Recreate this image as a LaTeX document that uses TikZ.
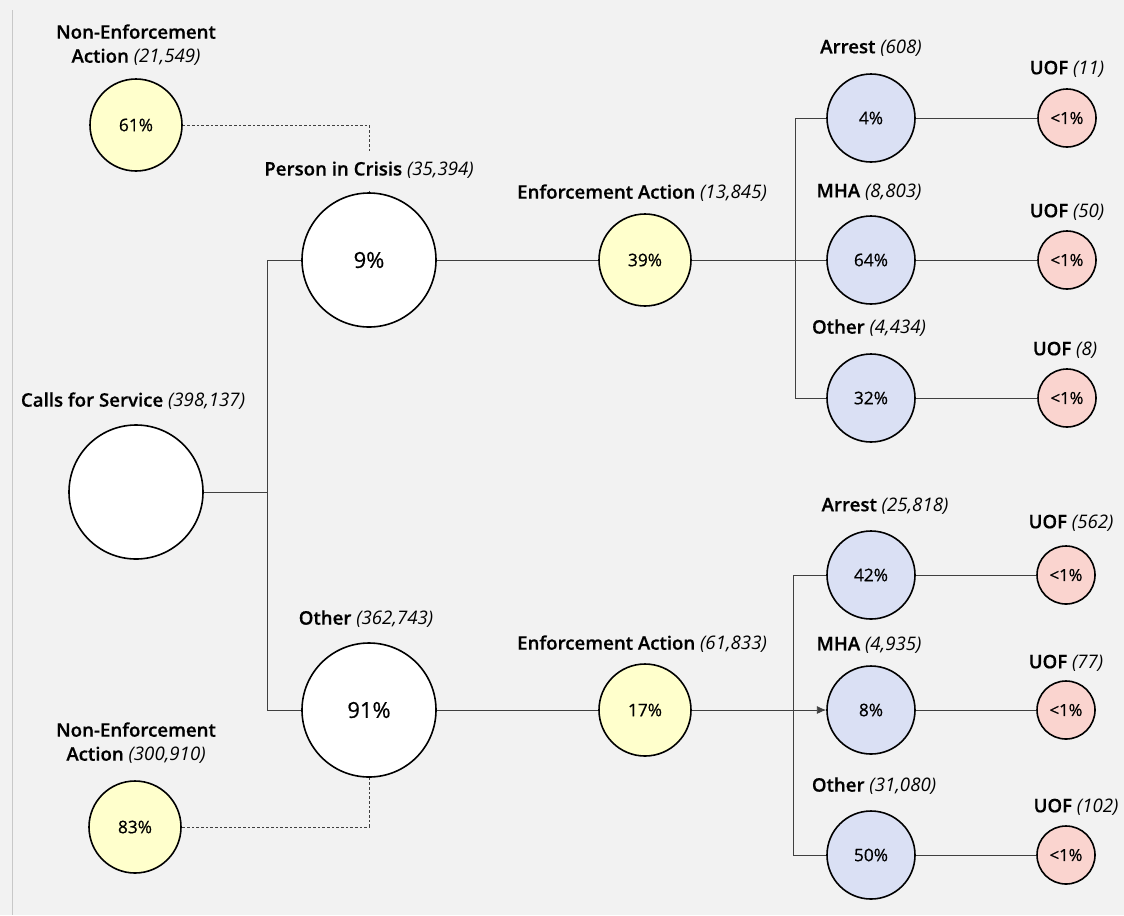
\documentclass[tikz,border=0pt]{standalone}
\usepackage{fontspec}
\IfFontExistsTF{Open Sans SemiBold}{\setmainfont{Open Sans}[BoldFont={Open Sans SemiBold},BoldFeatures={FakeBold=0.5}]}{%
  \IfFontExistsTF{Open Sans Semibold}{\setmainfont{Open Sans}[BoldFont={Open Sans Semibold},BoldFeatures={FakeBold=0.5}]}{\setmainfont{Open Sans}}}
\newfontface\pctfont{Open Sans}[FakeBold=0.6]
\usetikzlibrary{arrows.meta}
\definecolor{bg}{HTML}{F2F2F2}
\definecolor{yel}{HTML}{FFFFCC}
\definecolor{blu}{HTML}{DAE0F4}
\definecolor{pnk}{HTML}{FAD4CF}
\definecolor{lnc}{HTML}{404040}
\definecolor{edge}{HTML}{C8C8C8}
\begin{document}
\begin{tikzpicture}[x=0.75pt,y=-0.75pt,
  circ/.style={circle,draw=black,line width=1.2pt,inner sep=0pt},
  bigc/.style={circ,minimum size=100.5pt,font=\pctfont\fontsize{16.5}{19}\selectfont},
  midc/.style={circ,minimum size=69pt,font=\pctfont\fontsize{13}{15}\selectfont},
  bluc/.style={circ,fill=blu,minimum size=66pt,font=\pctfont\fontsize{13}{15}\selectfont},
  uofc/.style={circ,fill=pnk,minimum size=43.5pt,font=\pctfont\fontsize{12.5}{14}\selectfont},
  lab/.style={font=\fontsize{14}{18}\selectfont,align=center,inner sep=1pt},
  conn/.style={draw=lnc,line width=0.6pt},
  dconn/.style={draw=lnc,line width=0.6pt,dash pattern=on 2pt off 1.5pt},
]
\fill[bg] (0,0) rectangle (1124,915);
\useasboundingbox (0,0) rectangle (1124,915);
\draw[edge,line width=0.8pt] (12.5,10) -- (12.5,915);

% circles
\node[bigc,fill=white] (cfs) at (136,492) {};
\node[bigc,fill=white] (pic) at (369,260) {9\%};
\node[bigc,fill=white] (oth) at (369,710) {91\%};
\node[midc,fill=yel] (nea1) at (136,125) {61\%};
\node[midc,fill=yel] (nea2) at (135,827) {83\%};
\node[midc,fill=yel] (ea1) at (645,260) {39\%};
\node[midc,fill=yel] (ea2) at (645,710) {17\%};
\node[bluc] (arr1) at (871,118) {4\%};
\node[bluc] (mha1) at (871,260) {64\%};
\node[bluc] (oth1) at (871,398) {32\%};
\node[bluc] (arr2) at (871,575) {42\%};
\node[bluc] (mha2) at (871,710) {8\%};
\node[bluc] (oth2) at (871,855) {50\%};
\node[uofc] (u1a) at (1067,118) {<1\%};
\node[uofc] (u1b) at (1067,260) {<1\%};
\node[uofc] (u1c) at (1067,398) {<1\%};
\node[uofc] (u2a) at (1066,575) {<1\%};
\node[uofc] (u2b) at (1066,710) {<1\%};
\node[uofc] (u2c) at (1066,855) {<1\%};

% junctions
\coordinate (j0) at (267,492);
\coordinate (j1) at (795,260);
\coordinate (j2) at (793,710);

% connectors
\draw[conn] (cfs.east) -- (j0);
\draw[conn] (pic.west) -- (pic.west -| j0) -- (oth.west -| j0) -- (oth.west);
\draw[conn] (pic.east) -- (ea1.west);
\draw[conn] (oth.east) -- (ea2.west);
\draw[conn] (ea1.east) -- (mha1.west);
\draw[conn] (arr1.west) -- (arr1.west -| j1) -- (oth1.west -| j1) -- (oth1.west);
\draw[conn,-{Latex[length=7pt,width=6pt]}] (ea2.east) -- (mha2.west);
\draw[conn] (arr2.west) -- (arr2.west -| j2) -- (oth2.west -| j2) -- (oth2.west);
\draw[conn] (arr1.east) -- (u1a.west);
\draw[conn] (mha1.east) -- (u1b.west);
\draw[conn] (oth1.east) -- (u1c.west);
\draw[conn] (arr2.east) -- (u2a.west);
\draw[conn] (mha2.east) -- (u2b.west);
\draw[conn] (oth2.east) -- (u2c.west);
\draw[dconn] (nea1.east) -| (pic.north);
\draw[dconn] (oth.south) |- (nea2.east);

% labels
\node[lab] (lcfs) at (133,401) {\textbf{Calls for Service} \textit{(398,137)}};
\node[lab,fill=bg,minimum height=29pt] (lpic) at (369,170) {\textbf{Person in Crisis} \textit{(35,394)}};
\node[lab] (loth) at (366,619) {\textbf{Other} \textit{(362,743)}};
\node[lab] (lnea1) at (136,45) {\textbf{Non-Enforcement}\\\textbf{Action} \textit{(21,549)}};
\node[lab] (lnea2) at (136,743) {\textbf{Non-Enforcement}\\\textbf{Action} \textit{(300,910)}};
\node[lab] (lea1) at (642,193) {\textbf{Enforcement Action} \textit{(13,845)}};
\node[lab] (lea2) at (642,644) {\textbf{Enforcement Action} \textit{(61,833)}};
\node[lab] (larr1) at (871,48) {\textbf{Arrest} \textit{(608)}};
\node[lab] (lmha1) at (869,192) {\textbf{MHA} \textit{(8,803)}};
\node[lab] (loth1) at (869,328) {\textbf{Other} \textit{(4,434)}};
\node[lab] (larr2) at (885,506) {\textbf{Arrest} \textit{(25,818)}};
\node[lab] (lmha2) at (869,645) {\textbf{MHA} \textit{(4,935)}};
\node[lab] (loth2) at (874,786) {\textbf{Other} \textit{(31,080)}};
\node[lab] (lu1a) at (1067,69) {\textbf{UOF} \textit{(11)}};
\node[lab] (lu1b) at (1067,212) {\textbf{UOF} \textit{(50)}};
\node[lab] (lu1c) at (1065,350) {\textbf{UOF} \textit{(8)}};
\node[lab] (lu2a) at (1071,523) {\textbf{UOF} \textit{(562)}};
\node[lab] (lu2b) at (1066,663) {\textbf{UOF} \textit{(77)}};
\node[lab] (lu2c) at (1076,807) {\textbf{UOF} \textit{(102)}};
\end{tikzpicture}
\end{document}
